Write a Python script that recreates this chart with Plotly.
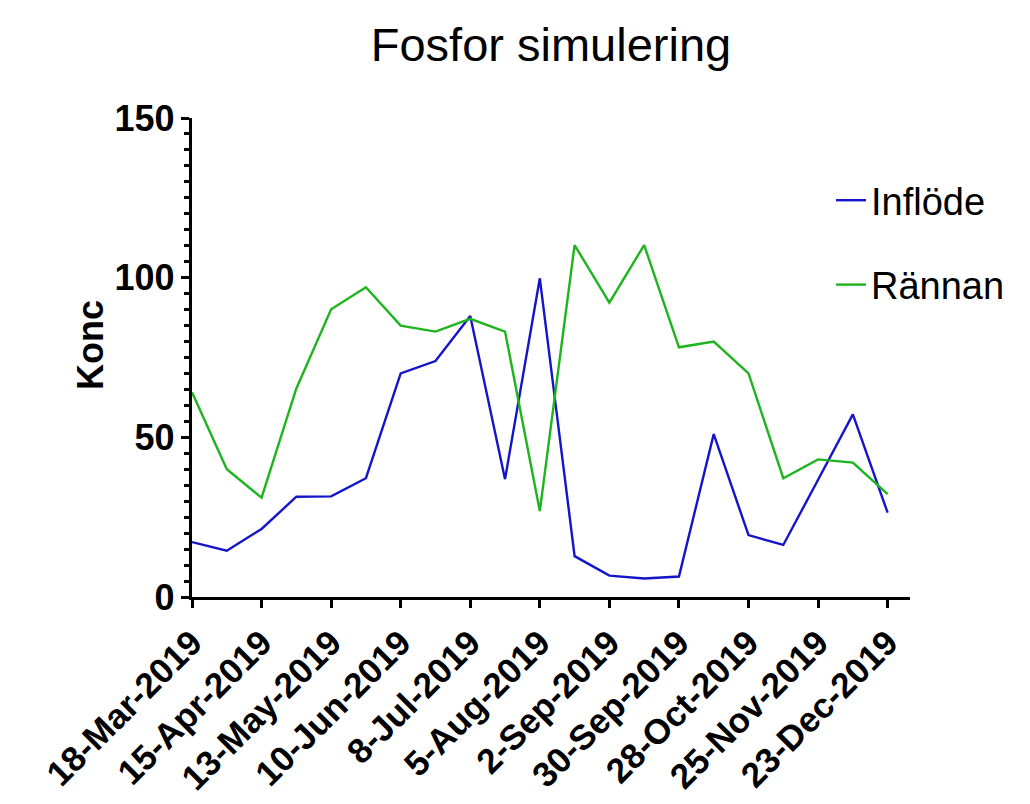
import plotly.graph_objects as go

dates = ["2019-03-18", "2019-04-01", "2019-04-15", "2019-04-29", "2019-05-13", "2019-05-27",
         "2019-06-10", "2019-06-24", "2019-07-08", "2019-07-22", "2019-08-05", "2019-08-19",
         "2019-09-02", "2019-09-16", "2019-09-30", "2019-10-14", "2019-10-28", "2019-11-11",
         "2019-11-25", "2019-12-09", "2019-12-23"]

inflode = [17.2, 14.5, 21.3, 31.4, 31.5, 37.2, 70.0, 73.9, 88.0, 36.9, 99.8, 12.8,
           6.7, 5.8, 6.4, 51.0, 19.4, 16.3, 36.7, 57.2, 26.4]

rannan = [64.1, 40.0, 31.1, 65.3, 90.1, 97.0, 85.0, 83.1, 87.1, 83.1, 26.9, 110.2,
          92.2, 110.2, 78.2, 80.0, 70.0, 37.2, 43.1, 42.1, 32.2]

tick_dates = ["2019-03-18", "2019-04-15", "2019-05-13", "2019-06-10", "2019-07-08", "2019-08-05",
              "2019-09-02", "2019-09-30", "2019-10-28", "2019-11-25", "2019-12-23"]
tick_labels = ["18-Mar-2019", "15-Apr-2019", "13-May-2019", "10-Jun-2019", "8-Jul-2019",
               "5-Aug-2019", "2-Sep-2019", "30-Sep-2019", "28-Oct-2019", "25-Nov-2019",
               "23-Dec-2019"]

FONT = "Liberation Sans, Arial, sans-serif"
W, H = 1030, 804
ML, MR, MT, MB = 184, 128, 110, 215
PW, PH = W - ML - MR, H - MT - MB

fig = go.Figure()
fig.add_trace(go.Scatter(x=dates, y=inflode, mode="lines", name="Inflöde",
                         line=dict(color="#1414C8", width=2.4), legendgroup="a"))
fig.add_trace(go.Scatter(x=dates, y=rannan, mode="lines", name="Rännan",
                         line=dict(color="#1EB41E", width=2.4), legendgroup="b"))

fig.add_annotation(text="<b>Konc</b>", textangle=-90, showarrow=False,
                   xref="paper", yref="paper",
                   x=(82 - ML) / PW, y=(H - MB - 337) / PH,
                   xanchor="center", yanchor="middle",
                   font=dict(family=FONT, size=36, color="black"))

fig.update_layout(
    width=W, height=H,
    paper_bgcolor="white", plot_bgcolor="white",
    margin=dict(l=ML, r=MR, t=MT, b=MB, autoexpand=False),
    title=dict(text="Fosfor simulering", x=0.5, xref="paper", xanchor="center",
               y=1 - 37/804, yref="container", yanchor="middle",
               font=dict(family=FONT, size=47, color="black")),
    showlegend=True,
    legend=dict(x=823/1030, xref="container", xanchor="left", y=1 - 161/804, yref="container",
                yanchor="top", font=dict(family=FONT, size=38, color="black"),
                traceorder="grouped", tracegroupgap=32, bgcolor="rgba(0,0,0,0)"),
    xaxis=dict(type="date", range=["2019-03-18", "2020-01-01"],
               tickvals=tick_dates, ticktext=tick_labels, tickangle=-45,
               tickfont=dict(family=FONT, size=35, color="black", weight="bold"),
               showgrid=False, zeroline=False,
               showline=True, linecolor="black", linewidth=3.3,
               ticks="outside", ticklen=8, tickwidth=3, tickcolor="black"),
    yaxis=dict(range=[0, 150], tickvals=[0, 50, 100, 150],
               tickfont=dict(family=FONT, size=36, color="black", weight="bold"),
               ticklabelstandoff=-1,
               showgrid=False, zeroline=False,
               showline=True, linecolor="black", linewidth=3.3,
               ticks="outside", ticklen=8, tickwidth=3, tickcolor="black",
               minor=dict(dtick=5, ticks="outside", ticklen=5, tickwidth=2.5,
                          tickcolor="black", showgrid=False)),
)

fig.write_html("out.html")
